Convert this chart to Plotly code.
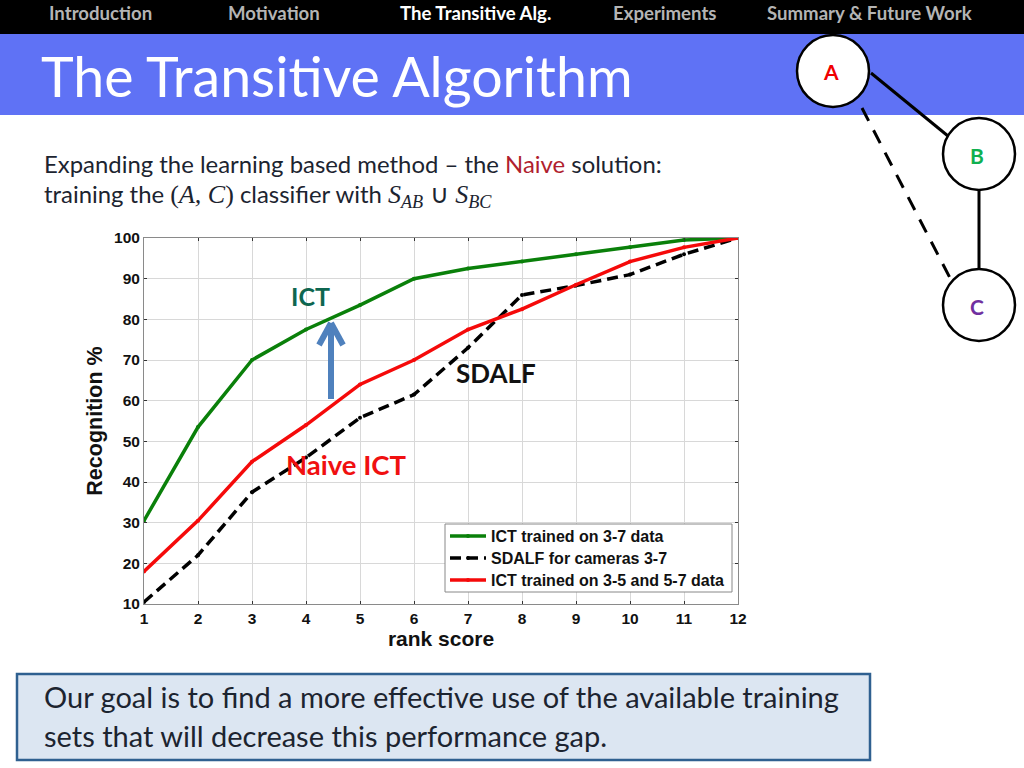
import plotly.graph_objects as go

rank = [1, 2, 3, 4, 5, 6, 7, 8, 9, 10, 11, 12]
ict = [30.5, 53.5, 70, 77.5, 83.5, 90, 92.5, 94.2, 96, 97.7, 99.5, 100]
sdalf = [10.5, 22, 37.5, 46, 55.8, 61.5, 73, 86, 88.3, 91, 96, 100]
naive = [18, 30.5, 45, 54, 64, 70, 77.5, 82.5, 88.5, 94.2, 97.7, 100]
y_ticks = [10, 20, 30, 40, 50, 60, 70, 80, 90, 100]
tabs = ["Introduction", "Motivation", "The Transitive Alg.", "Experiments", "Summary & Future Work"]
tab_x = [100, 274, 475, 665, 869]

# plot area in page pixels
L, R, T, B = 144, 738, 238, 604
W, H = 1024, 768
MATH = "font-family:'Liberation Serif';font-size:26px"
LEG = '<span style="font-size:16px">%s</span>'


def px(x):
    return (x - L) / (R - L)


def py(y):
    return (B - y) / (B - T)


def rect(x0, y0, x1, y1, fill, line=None, width=0, layer="below"):
    return dict(type="rect", xref="paper", yref="paper", x0=px(x0), x1=px(x1), y0=py(y0), y1=py(y1),
                fillcolor=fill, line=dict(color=line, width=width), layer=layer)


def seg(x0, y0, x1, y1, color="black", width=3, dash="solid", layer="above"):
    return dict(type="line", xref="paper", yref="paper", x0=px(x0), x1=px(x1), y0=py(y0), y1=py(y1),
                line=dict(color=color, width=width, dash=dash), layer=layer)


def circle(cx, cy, r=36):
    return dict(type="circle", xref="paper", yref="paper", x0=px(cx - r), x1=px(cx + r),
                y0=py(cy + r), y1=py(cy - r), fillcolor="white", line=dict(color="black", width=2.5))


def label(x, y, text, size, color="black", family="Lato", anchor="center", bold=False):
    if bold:
        text = "<b>" + text + "</b>"
    return dict(xref="paper", yref="paper", x=px(x), y=py(y), text=text, showarrow=False,
                xanchor=anchor, yanchor="middle", font=dict(size=size, color=color, family=family))


fig = go.Figure()
fig.add_trace(go.Scatter(x=rank, y=ict, mode="lines+markers", name=LEG % "ICT trained on 3-7 data",
                         line=dict(color="#0a800a", width=3.5), marker=dict(size=4)))
fig.add_trace(go.Scatter(x=rank, y=sdalf, mode="lines+markers", name=LEG % "SDALF for cameras 3-7",
                         line=dict(color="black", width=3.5, dash="11px,6px"), marker=dict(size=4)))
fig.add_trace(go.Scatter(x=rank, y=naive, mode="lines+markers", name=LEG % "ICT trained on 3-5 and 5-7 data",
                         line=dict(color="#f50a0a", width=3.5), marker=dict(size=4)))

shapes = [
    rect(0, 0, W, 34, "black"),
    rect(0, 34, W, 115, "#5f72f5"),
    rect(17, 674, 870, 760, "#dce6f2", "#2f6090", 2.5),
    # legend box, plotly's own is taller than the one on the slide
    rect(445, 524, 732, 592, "white", "#888888", 1, layer="above"),
    # arrow between the curves
    seg(331, 399, 331, 324, "#4f81bd", 6),
    seg(331, 323, 319, 345, "#4f81bd", 6),
    seg(331, 323, 343, 345, "#4f81bd", 6),
    # camera graph
    seg(871, 73, 948, 136),
    seg(979, 190, 979, 269),
    seg(862, 108, 950, 278, dash="14.5px,10.6px"),
    circle(833, 71),
    circle(979, 154),
    circle(979, 305),
]

annotations = [
    label(x, 13, t, 18.6, "white" if t == "The Transitive Alg." else "#b4b4b4", bold=True)
    for x, t in zip(tab_x, tabs)
]
annotations += [
    label(39, 76, "The Transitive Algorithm", 55.5, "white", anchor="left"),
    label(42, 163, 'Expanding the learning based method – the <span style="color:#b01e2e">Naive</span> solution:',
          23.9, "#1c2430", anchor="left"),
    label(42, 195, 'training the <span style="%s">(<i>A, C</i>)</span> classifier with '
          '<span style="%s"><i>S<sub>AB</sub></i> ∪ <i>S<sub>BC</sub></i></span>' % (MATH, MATH),
          23.9, "#1c2430", anchor="left"),
    label(310, 296, "ICT", 25, "#0e6650", bold=True),
    label(496, 373, "SDALF", 26, "#111111", bold=True),
    label(346, 464, "Naive ICT", 27.5, "#f01010", bold=True),
    label(831, 72, "A", 21, "#f00000", bold=True),
    label(977, 155, "B", 21, "#10b050", bold=True),
    label(977, 306, "C", 21, "#7030a0", bold=True),
    label(42, 696, "Our goal is to find a more effective use of the available training", 29, "#1c2430", anchor="left"),
    label(42, 735, "sets that will decrease this performance gap.", 29, "#1c2430", anchor="left"),
]

fig.update_layout(
    width=W, height=H, autosize=False,
    margin=dict(l=L, r=W - R, t=T, b=H - B, pad=0),
    paper_bgcolor="white",
    plot_bgcolor="rgba(0,0,0,0)",
    font=dict(family="Liberation Sans", color="#111111"),
    shapes=shapes,
    annotations=annotations,
    legend=dict(x=px(445), y=py(520), xanchor="left", yanchor="top", bgcolor="rgba(0,0,0,0)",
                borderwidth=0, itemwidth=36,
                font=dict(size=14.6, family="Liberation Sans", weight="bold")),
    xaxis=dict(range=[1, 12], tickvals=rank, showgrid=True, gridcolor="#d8d8d8", gridwidth=1,
               zeroline=False, showline=True, linecolor="#8a8a8a", mirror="ticks",
               ticks="inside", ticklen=3, tickcolor="#333333",
               tickfont=dict(size=15.5, family="Liberation Sans", weight="bold"),
               title=dict(text="<b>rank score</b>", font=dict(size=21), standoff=2)),
    yaxis=dict(range=[10, 100], tickvals=y_ticks, showgrid=True, gridcolor="#d8d8d8", gridwidth=1,
               zeroline=False, showline=True, linecolor="#8a8a8a", mirror="ticks",
               ticks="inside", ticklen=3, tickcolor="#333333",
               tickfont=dict(size=15.5, family="Liberation Sans", weight="bold"),
               title=dict(text="<b>Recognition %</b>", font=dict(size=21.5), standoff=5)),
)

# the slide fills the whole window, so drop the default body margin
fig.write_html("out.html", config={"displayModeBar": False},
               post_script="document.body.style.margin='0';")
